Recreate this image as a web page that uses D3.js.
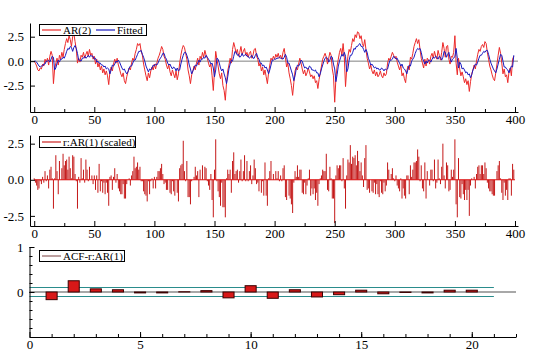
<!DOCTYPE html>
<html>
<head>
<meta charset="utf-8">
<script src="https://cdn.jsdelivr.net/npm/d3@7"></script>
<style>
  body { margin: 0; background: #fff; }
  svg { display: block; }
  svg text { font-family: "Liberation Serif", "Times New Roman", serif; }
</style>
</head>
<body>
<div id="body"></div>
<script>
// AR(2) series (red)
var ar2 = [
  0.0,-0.2,-0.5,-0.9,-1.0,-0.7,-0.8,-0.3,-0.5,0.2,
  -0.1,0.3,-0.4,0.5,1.0,0.6,-2.3,-0.8,-0.2,0.3,
  -0.4,0.6,0.2,0.9,0.4,1.2,1.8,2.3,1.9,2.6,
  2.2,1.5,2.5,2.8,2.0,1.2,-0.2,0.3,-0.1,0.6,
  0.4,0.9,0.3,0.7,1.0,0.5,1.2,0.6,0.8,0.2,
  0.5,-0.3,0.2,-0.6,-0.2,-0.9,-0.5,-1.2,-0.8,-1.4,
  -1.0,-1.5,-2.4,-1.1,-0.6,-1.0,-0.3,0.2,-0.2,0.3,
  -0.4,-0.8,-1.3,-1.6,-1.2,-2.0,-2.3,-1.6,-1.1,-0.7,
  -0.9,-0.2,0.3,0.1,0.8,1.2,1.8,1.6,1.8,1.0,
  0.6,-0.3,-0.9,-1.5,-2.0,-1.2,-1.7,-1.0,-0.6,-0.9,
  -0.3,-0.8,-0.2,0.3,0.6,1.0,1.5,1.2,0.5,0.2,
  -0.4,-0.8,-0.4,-1.1,-1.5,-0.9,-1.3,-1.7,-1.0,-1.9,
  -1.3,-0.2,0.6,1.2,1.6,1.4,0.8,0.2,-0.9,-1.5,
  -2.3,-1.4,-1.0,-0.5,-0.9,-0.2,0.3,-0.4,0.5,0.2,
  0.9,0.4,1.1,0.6,0.3,-0.2,-0.6,-0.3,-1.5,-3.0,
  -1.0,1.0,0.2,-0.5,-1.3,-1.8,-1.2,-2.5,-3.0,-4.0,
  -2.2,-1.0,-0.4,0.3,-0.2,1.2,1.9,1.4,0.8,1.2,
  0.5,0.9,1.5,0.7,1.0,1.3,0.6,0.9,0.4,0.8,
  1.0,0.3,0.6,1.2,1.3,0.5,0.2,-0.5,-0.2,-1.0,
  -0.6,-1.4,-0.9,-1.6,-2.3,-1.2,-0.4,0.3,0.1,0.5,
  0.2,0.7,0.4,0.8,0.3,0.6,0.2,0.9,1.3,0.4,
  -0.6,-0.2,-1.2,-1.8,-2.5,-3.5,-2.2,-1.0,-0.6,-0.9,
  -0.3,0.3,-0.2,-0.8,-1.3,-0.9,-1.5,-1.2,-0.7,-1.1,
  -1.6,-1.4,-1.8,-1.5,-2.2,-2.0,-2.8,-1.9,-1.2,-0.5,
  0.2,0.5,0.8,0.4,-0.3,0.3,0.9,0.6,-0.8,-1.5,
  -4.2,-1.8,-0.5,0.2,0.9,1.3,0.6,1.8,0.4,-2.6,
  -0.8,0.5,1.2,0.9,1.6,2.3,2.0,2.7,2.4,3.0,
  2.9,2.3,2.6,1.8,1.5,2.2,1.2,0.3,-0.2,-0.8,
  -0.4,-1.0,-1.3,-0.9,-1.5,-1.1,-1.6,-1.4,-1.0,-1.5,
  -1.7,-1.2,-1.5,-1.3,-0.2,0.3,0.1,0.5,0.9,0.6,
  0.3,0.5,-0.1,-0.5,-0.9,-0.4,-1.5,-1.2,-1.8,-2.2,
  -1.0,-0.5,-0.9,0.4,0.2,0.8,1.5,1.9,2.3,1.8,
  2.2,1.2,0.3,-0.2,-0.7,0.2,-0.5,0.3,0.1,-0.3,
  0.5,0.8,0.3,1.0,0.5,0.2,1.1,0.6,0.1,0.9,
  1.9,1.3,0.4,1.5,1.6,0.2,-0.3,0.5,0.4,0.9,
  2.6,-0.2,-1.4,0.3,-0.8,-1.5,-1.1,-1.6,-2.2,-1.8,
  -2.4,-2.0,-3.1,-2.1,-1.3,-0.9,-0.4,-0.8,0.0,0.7,
  1.2,1.0,1.5,1.7,1.4,2.0,1.8,0.9,0.2,-0.5,
  -0.9,-1.4,-1.8,-2.0,-1.2,-0.3,0.6,1.4,0.8,-0.2,
  -1.3,-0.8,-1.6,-1.4,-2.2,-1.1,-0.7,-1.5,0.2,0.5
];

// fitted values (blue)
var fitted = [
  0.0,0.0,-0.1,-0.3,-0.5,-0.6,-0.5,-0.5,-0.3,-0.3,
  0.0,0.0,0.1,-0.1,0.2,0.5,0.4,-0.9,-0.7,-0.2,
  0.1,-0.1,0.2,0.2,0.4,0.3,0.6,1.0,1.3,1.2,
  1.5,1.4,1.0,1.4,1.6,1.3,0.8,0.1,0.1,0.0,
  0.3,0.3,0.5,0.3,0.4,0.6,0.4,0.6,0.5,0.5,
  0.2,0.3,-0.1,0.0,-0.2,-0.2,-0.4,-0.4,-0.6,-0.5,
  -0.8,-0.7,-0.8,-1.3,-0.9,-0.4,-0.5,-0.3,0.0,-0.1,
  0.1,-0.1,-0.4,-0.7,-0.9,-0.8,-1.1,-1.3,-1.1,-0.7,
  -0.5,-0.5,-0.2,0.1,0.1,0.4,0.7,1.0,1.0,1.1,
  0.7,0.4,0.0,-0.5,-0.8,-1.1,-0.8,-0.9,-0.7,-0.4,
  -0.5,-0.3,-0.4,-0.2,0.1,0.3,0.5,0.8,0.8,0.4,
  0.2,-0.2,-0.4,-0.3,-0.6,-0.8,-0.6,-0.7,-1.0,-0.7,
  -1.0,-0.9,-0.3,0.2,0.6,0.9,0.9,0.6,0.2,-0.4,
  -0.8,-1.3,-1.0,-0.7,-0.4,-0.5,-0.2,0.1,-0.1,0.2,
  0.2,0.4,0.3,0.6,0.4,0.2,0.0,-0.3,-0.2,-0.7,
  -1.6,-0.9,0.3,0.2,-0.2,-0.7,-1.0,-0.8,-1.3,-1.7,
  -2.3,-1.6,-0.8,-0.3,0.1,0.0,0.5,1.0,0.9,0.6,
  0.7,0.4,0.5,0.8,0.5,0.6,0.7,0.5,0.5,0.3,
  0.4,0.6,0.3,0.3,0.6,0.8,0.4,0.2,-0.2,-0.2,
  -0.5,-0.4,-0.7,-0.6,-0.9,-1.3,-0.9,-0.4,0.1,0.1,
  0.2,0.2,0.3,0.3,0.4,0.3,0.3,0.2,0.4,0.7,
  0.4,-0.2,-0.2,-0.6,-1.0,-1.4,-2.0,-1.5,-0.8,-0.4,
  -0.5,-0.3,0.1,0.0,-0.4,-0.7,-0.6,-0.8,-0.8,-0.5,
  -0.6,-0.9,-0.9,-1.0,-0.9,-1.2,-1.2,-1.6,-1.3,-0.8,
  -0.4,0.0,0.3,0.4,0.3,-0.1,0.1,0.5,0.4,-0.3,
  -0.8,-2.1,-1.4,-0.5,0.0,0.4,0.7,0.5,0.9,0.5,
  -1.1,-0.8,0.1,0.6,0.6,0.9,1.3,1.2,1.5,1.5,
  1.7,1.8,1.5,1.5,1.2,0.9,1.2,0.9,0.3,0.0,
  -0.4,-0.3,-0.5,-0.7,-0.6,-0.8,-0.7,-0.9,-0.9,-0.7,
  -0.8,-1.0,-0.8,-0.9,-0.8,-0.3,0.1,0.1,0.2,0.5,
  0.4,0.2,0.3,0.0,-0.2,-0.5,-0.3,-0.7,-0.8,-1.0,
  -1.3,-0.8,-0.4,-0.5,0.0,0.2,0.4,0.8,1.1,1.3,
  1.2,1.3,0.9,0.3,0.0,-0.3,0.0,-0.2,0.1,0.1,
  -0.1,0.2,0.4,0.3,0.5,0.4,0.2,0.5,0.4,0.1,
  0.4,1.0,0.9,0.4,0.7,0.9,0.3,-0.1,0.2,0.3,
  0.5,1.3,0.3,-0.7,-0.1,-0.3,-0.8,-0.7,-0.9,-1.2,
  -1.1,-1.4,-1.3,-1.7,-1.4,-0.9,-0.6,-0.3,-0.4,-0.1,
  0.3,0.6,0.6,0.8,1.0,0.9,1.1,1.1,0.7,0.2,
  -0.2,-0.5,-0.8,-1.0,-1.2,-0.8,-0.3,0.2,0.7,0.6,
  0.0,-0.6,-0.6,-0.8,-0.9,-1.2,-0.8,-0.5,-0.6,0.6
];

// scaled residuals (spikes in the middle panel)
var resid = [
  0.1,-0.2,-0.4,-0.7,-0.6,-0.1,-0.3,0.2,-0.2,0.6,
  -0.1,0.3,-0.6,0.7,0.9,0.1,-2.0,0.1,1.7,0.6,
  -1.0,1.3,0.0,0.8,1.8,1.0,1.3,1.4,0.7,1.6,
  0.8,0.1,1.7,1.6,0.4,-0.1,-2.0,0.2,-0.2,1.5,
  0.1,0.7,-0.2,1.4,0.7,-0.1,0.9,0.0,0.3,-0.3,
  0.3,-0.7,0.3,-0.9,1.1,-0.8,-0.1,-0.9,-0.2,-1.0,
  -0.2,-0.9,-1.8,0.2,0.3,-0.7,0.2,0.8,-0.2,0.4,
  -0.6,-0.8,-1.0,-1.0,-0.3,-1.3,-1.3,-0.3,0.0,0.1,
  -0.4,0.3,0.6,1.6,0.8,0.9,1.2,0.7,0.9,-0.1,
  -0.1,-0.8,-1.0,-1.1,-1.5,-0.1,-1.0,-0.1,0.1,-0.6,
  0.2,-0.6,0.2,0.6,0.6,0.8,1.1,0.4,-0.3,-0.2,
  -0.7,-0.7,0.0,-0.9,-1.0,-0.1,-0.8,-1.1,0.0,-0.9,
  -1.5,0.8,1.0,1.1,2.7,0.6,-0.1,1.3,-1.2,-1.2,
  -1.7,-0.1,0.0,0.2,0.9,0.3,0.6,-1.2,0.7,0.0,
  1.0,0.0,0.9,0.8,-0.1,-0.4,-0.7,0.4,-1.4,-2.6,
  0.7,2.8,-0.1,-0.8,-1.2,-1.8,-0.2,-1.9,-1.9,-2.6,
  0.1,0.7,0.4,0.7,-0.9,1.3,1.9,0.4,0.6,0.7,
  -0.2,0.6,1.4,-0.1,0.6,1.7,-0.1,1.3,-0.1,0.6,
  1.0,-0.3,0.3,1.4,0.8,-0.3,-0.2,-0.8,0.0,-0.9,
  -0.1,-1.1,1.2,-1.1,-1.8,0.1,0.6,1.3,0.0,0.4,
  0.0,0.6,0.1,0.6,-0.1,0.3,-0.1,0.8,1.0,-1.2,
  -1.4,0.0,-1.1,-1.3,-1.7,-2.3,-0.2,0.6,0.2,1.0,
  0.2,0.7,0.7,-0.9,-1.0,-0.2,-1.0,-0.4,0.1,0.7,
  -1.1,-0.6,-1.0,-0.6,-1.4,-0.9,-1.8,-0.3,0.1,0.3,
  0.7,0.6,0.6,1.8,-0.7,-0.8,0.9,0.1,-1.3,-1.3,
  -3.0,0.3,1.0,0.8,1.0,1.0,-0.1,1.5,-0.6,-2.0,
  0.3,1.4,1.2,2.4,1.1,1.6,1.5,1.7,1.0,2.0,
  1.3,0.6,1.2,0.3,-0.5,1.5,2.4,-0.7,-0.6,-0.9,
  0.0,-0.8,-0.9,-0.2,-1.0,-0.3,-1.0,-1.2,-0.1,-0.9,
  -1.0,-0.2,-0.8,-0.4,1.2,0.7,0.0,0.4,0.8,0.1,
  -0.1,0.3,-0.4,-0.6,-0.8,0.1,-1.3,-0.6,-1.1,-1.3,
  0.3,0.3,-1.0,1.0,0.2,0.7,1.2,1.2,1.3,2.1,
  1.6,-0.1,1.0,-0.6,-0.8,1.2,-1.3,0.6,0.0,-0.4,
  0.7,0.7,-0.1,1.4,-0.6,-0.2,1.4,0.1,-0.3,0.9,
  2.5,0.3,-0.6,1.2,1.0,-0.8,-0.7,0.7,0.2,0.7,
  2.8,-1.7,-2.6,1.5,-1.2,-1.3,-0.3,-1.0,-1.4,-0.7,
  -1.4,-0.7,-2.5,-0.4,0.1,0.0,0.2,-0.6,0.4,0.9,
  1.0,0.4,1.0,1.0,0.4,1.2,0.8,-0.2,-0.6,-0.8,
  -0.8,-1.0,-1.1,-1.1,0.0,0.6,1.0,1.3,0.1,-0.9,
  -1.4,-0.2,-1.1,-0.7,-1.4,0.1,0.1,-1.1,1.1,0.7
];

// ACF of residuals, lags 1..20
var acfLags = d3.range(1, 21);
var acfVals = [-0.17,0.25,0.07,0.05,-0.02,-0.02,0.005,0.03,-0.13,0.14,
               -0.14,0.05,-0.11,-0.06,0.04,-0.04,-0.01,-0.02,0.04,0.04];
var acfBand = 0.1;

var timeTicks = [0,50,100,150,200,250,300,350,400];
var timeMinor = [25,75,125,175,225,275,325,375];
var levelTicks = [-2.5, 0, 2.5];
var lagTicks = [0,5,10,15,20];
var lagMinor = d3.range(1, 23);
var acfTicks = [0, 1];
var acfMinor = d3.range(-1, 1.01, 0.2);

var W = 540, H = 360;
var svg = d3.select("#body").append("svg").attr("width", W).attr("height", H);

var fmt1 = function (d) { return d.toFixed(1); };

function drawAxes(g, x, y, xt, xm, yt, ym, xf, yf) {
  var r = y.range();
  var axes = g.append("g");
  axes.append("g").attr("transform", "translate(0," + r[0] + ")")
    .call(d3.axisBottom(x).tickValues(xt).tickSize(-5).tickSizeOuter(0).tickPadding(3).tickFormat(xf));
  axes.append("g").attr("transform", "translate(0," + r[0] + ")")
    .call(d3.axisBottom(x).tickValues(xm).tickSize(-3).tickSizeOuter(0).tickFormat(""))
    .select(".domain").remove();
  axes.append("g").attr("transform", "translate(" + x.range()[0] + ",0)")
    .call(d3.axisLeft(y).tickValues(yt).tickSize(-5).tickSizeOuter(0).tickPadding(6).tickFormat(yf));
  if (ym) {
    axes.append("g").attr("transform", "translate(" + x.range()[0] + ",0)")
      .call(d3.axisLeft(y).tickValues(ym).tickSize(-3).tickSizeOuter(0).tickFormat(""))
      .select(".domain").remove();
  }
  axes.selectAll("g").attr("font-family", null).attr("font-size", null);
  axes.selectAll("text").attr("font-size", 13).attr("fill", "#000");
  axes.selectAll(".domain, line").attr("stroke", "#000");
}

function legend(g, x0, y0, w, items) {
  g.append("rect").attr("x", x0).attr("y", y0).attr("width", w).attr("height", 11)
    .attr("fill", "#fff").attr("stroke", "#000");
  items.forEach(function (it) {
    g.append("line").attr("x1", it.x).attr("x2", it.x + 19).attr("y1", y0 + 5.5).attr("y2", y0 + 5.5)
      .attr("stroke", it.color).attr("stroke-width", 1.2);
    g.append("text").attr("x", it.x + 21).attr("y", y0 + 9.5).attr("font-size", 11)
      .attr("fill", "#000").text(it.label);
  });
}

// panel 1: AR(2) and fitted
var x1 = d3.scaleLinear().domain([-3.5, 402.5]).range([30, 518]);
var y1 = d3.scaleLinear().domain([-5.2, 3.9]).range([112, 23]);
var g1 = svg.append("g");
g1.append("line").attr("x1", x1.range()[0]).attr("x2", x1.range()[1])
  .attr("y1", y1(0)).attr("y2", y1(0)).attr("stroke", "#808080");
var line1 = d3.line().x(function (d, i) { return x1(i); }).y(function (d) { return y1(d); });
g1.append("path").datum(ar2).attr("d", line1).attr("fill", "none").attr("stroke", "#ec2a2a").attr("stroke-width", 1);
g1.append("path").datum(fitted).attr("d", line1).attr("fill", "none").attr("stroke", "#1a1ac0").attr("stroke-width", 1);
drawAxes(g1, x1, y1, timeTicks, timeMinor, levelTicks, null, d3.format("d"), fmt1);
legend(g1, 39.5, 24.5, 107, [
  { x: 42, color: "#ec2a2a", label: "AR(2)" },
  { x: 96, color: "#1a1ac0", label: "Fitted" }
]);

// panel 2: scaled residuals
var y2 = d3.scaleLinear().domain([-3.2, 3.1]).range([226, 135]);
var g2 = svg.append("g");
g2.selectAll("line.spike").data(resid).enter().append("line").attr("class", "spike")
  .attr("x1", function (d, i) { return x1(i); }).attr("x2", function (d, i) { return x1(i); })
  .attr("y1", y2(0)).attr("y2", function (d) { return y2(d); })
  .attr("stroke", "#c41818").attr("stroke-width", 1);
g2.append("line").attr("x1", x1(0)).attr("x2", x1(400)).attr("y1", y2(0)).attr("y2", y2(0))
  .attr("stroke", "#dd1010");
drawAxes(g2, x1, y2, timeTicks, timeMinor, levelTicks, null, d3.format("d"), fmt1);
legend(g2, 39.5, 136.5, 96, [{ x: 42, color: "#cc2020", label: "r:AR(1) (scaled)" }]);

// panel 3: ACF
var x3 = d3.scaleLinear().domain([0, 22]).range([29.5, 516]);
var y3 = d3.scaleLinear().domain([-1, 1]).range([337, 247]);
var g3 = svg.append("g");
g3.append("line").attr("x1", x3(0)).attr("x2", x3(22)).attr("y1", y3(0)).attr("y2", y3(0))
  .attr("stroke", "#a8a8a8").attr("stroke-width", 2);
[acfBand, -acfBand].forEach(function (b) {
  g3.append("line").attr("x1", x3(0)).attr("x2", x3(21)).attr("y1", y3(b)).attr("y2", y3(b))
    .attr("stroke", "#2a8c8c").attr("stroke-width", 1);
});
g3.selectAll("rect.bar").data(acfVals).enter().append("rect").attr("class", "bar")
  .attr("x", function (d, i) { return x3(acfLags[i] - 0.25); })
  .attr("width", x3(0.5) - x3(0))
  .attr("y", function (d) { return Math.min(y3(d), y3(0)); })
  .attr("height", function (d) { return Math.abs(y3(d) - y3(0)); })
  .attr("fill", "#d81818").attr("stroke", "#3a0000").attr("stroke-width", 1);
drawAxes(g3, x3, y3, lagTicks, lagMinor, acfTicks, acfMinor, d3.format("d"), d3.format("d"));
legend(g3, 39.5, 250.5, 85, [{ x: 42, color: "#906060", label: "ACF-r:AR(1)" }]);
</script>
</body>
</html>
